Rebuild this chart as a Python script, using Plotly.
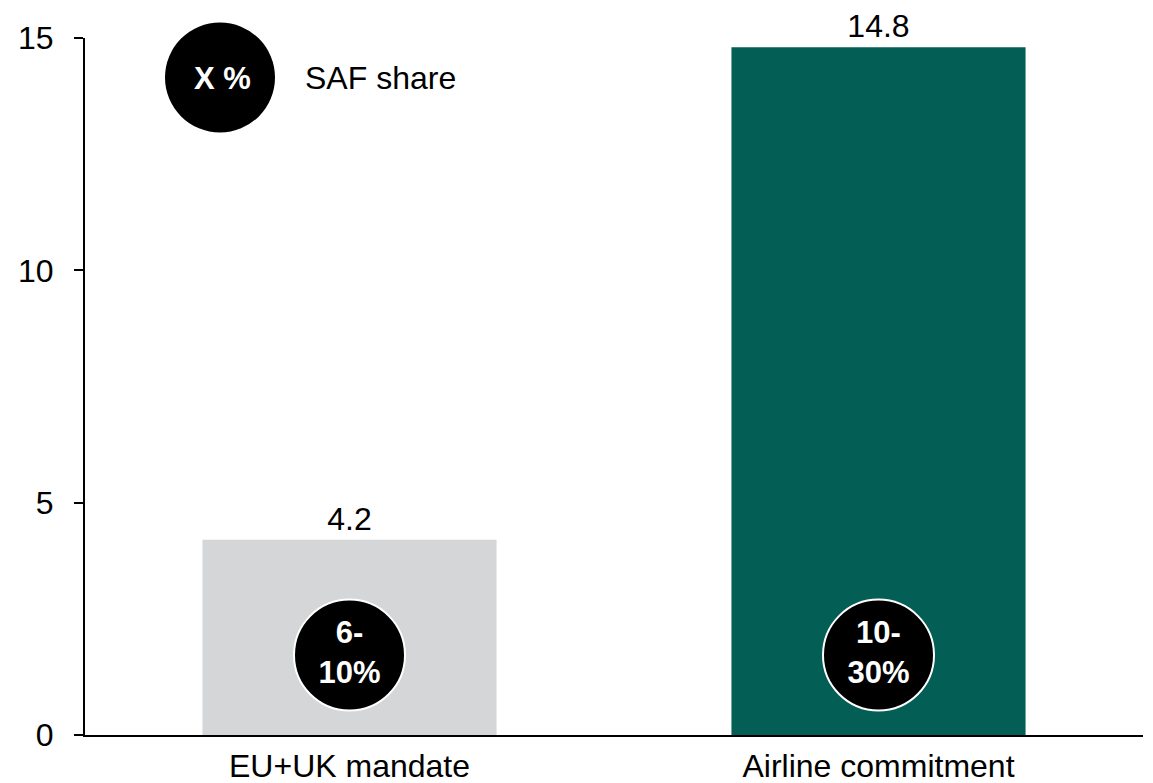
import plotly.graph_objects as go

categories = ["EU+UK mandate", "Airline commitment"]
values = [4.2, 14.8]
value_labels = ["4.2", "14.8"]
share_labels = ["6-<br>10%", "10-<br>30%"]
bar_colors = ["#d5d6d8", "#035f55"]
y_ticks = [0, 5, 10, 15]
legend_badge = "X %"
legend_text = "SAF share"

FONT = "Liberation Sans, Arial, sans-serif"
FS = 32
badge_y = 1.72

fig = go.Figure()
fig.add_trace(go.Bar(
    x=categories, y=values, width=0.556,
    marker=dict(color=bar_colors, line=dict(width=0)),
    text=value_labels, textposition="outside", cliponaxis=False,
    textfont=dict(family=FONT, size=FS, color="#000000"),
    hoverinfo="skip",
))
fig.add_trace(go.Scatter(
    x=categories, y=[badge_y] * len(categories),
    mode="markers+text",
    marker=dict(size=111, color="#000000", line=dict(color="#ffffff", width=2)),
    text=["<b>" + s + "</b>" for s in share_labels],
    textposition="middle center",
    textfont=dict(family=FONT, size=FS - 1, color="#ffffff"),
    cliponaxis=False, hoverinfo="skip",
))

# legend badge
fig.add_shape(type="circle", xref="paper", yref="paper",
              xsizemode="pixel", ysizemode="pixel",
              xanchor=(220 - 85) / 1058, yanchor=(735 - 77.5) / 697,
              x0=-55, x1=55, y0=-55, y1=55,
              fillcolor="#000000", line=dict(width=0))
fig.add_annotation(xref="paper", yref="paper", x=(222 - 85) / 1058, y=(735 - 78) / 697,
                   text="<b>" + legend_badge + "</b>", showarrow=False,
                   font=dict(family=FONT, size=FS - 1, color="#ffffff"),
                   xanchor="center", yanchor="middle")
fig.add_annotation(xref="paper", yref="paper", x=(303 - 85) / 1058, y=(735 - 78) / 697,
                   text=legend_text, showarrow=False,
                   font=dict(family=FONT, size=FS, color="#000000"),
                   xanchor="left", yanchor="middle")

# page body has an 8px margin, so the figure is offset by (8, 8)
fig.update_layout(
    width=1145, height=775,
    margin=dict(l=77, r=10, t=30, b=48),
    paper_bgcolor="#ffffff", plot_bgcolor="#ffffff",
    showlegend=False,
    font=dict(family=FONT, size=FS, color="#000000"),
    xaxis=dict(showline=True, linecolor="#000000", linewidth=2, ticks="",
               showgrid=False, zeroline=False, automargin=False,
               tickfont=dict(family=FONT, size=FS, color="#000000"),
               ticklabelstandoff=2),
    yaxis=dict(range=[0, 15], tickvals=y_ticks, showline=True, linecolor="#000000",
               linewidth=2, ticks="outside", ticklen=9, tickwidth=2, tickcolor="#000000",
               showgrid=False, zeroline=False, automargin=False,
               tickfont=dict(family=FONT, size=FS, color="#000000"),
               ticklabelstandoff=14),
)

fig.write_html("out.html")
